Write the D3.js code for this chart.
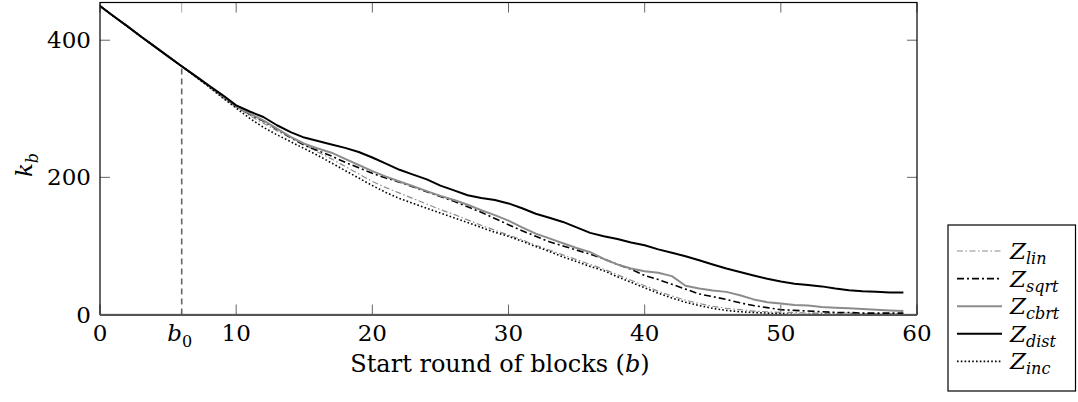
<!DOCTYPE html>
<html><head><meta charset="utf-8">
<script src="https://cdn.jsdelivr.net/npm/d3@7"></script>
<style>
html,body{margin:0;padding:0;background:#fff;}
svg{display:block;}
</style>
</head><body>
<svg id="c" width="1078" height="402" font-family="'DejaVu Serif', 'Liberation Serif', serif"></svg>
<script>
const rounds = d3.range(0, 60);
const zLin  = [450,435,420.5,405.5,391,376.5,362,347,332,317,303, 290,279,268,258,248,237,227,216,205,194, 185,177,169,161,153,146,138,130,123,116, 109,101,94,87,80,73,66,58,50,42, 34,27,21,16,12,9,7,5,4,3, 3,2,2,2,2,1,1,1,1];
const zSqrt = [450,435,420.5,405.5,391,376.5,362,348,333,318,303, 292,282,270,258,247,239,231,222,214,206, 199,193,186,179,172,165,157,149,140,131, 122,114,106,100,94,88,81,73,66,57, 51,44,37,30,26,22,17,13,10,7, 6,5,4,3,3,2,2,2,2];
const zCbrt = [450,435,420.5,405.5,391,376.5,362,348,333,318,303, 293,283,271,259,249,242,236,227,218,209, 201,194,187,180,173,167,160,152,145,137, 127,118,111,104,97,91,81,73,67,63, 61,56,42,38,35,33,28,22,18,16, 14,13,11,10,9,8,7,6,5];
const zDist = [450,435,420.5,405.5,391,376.5,362,348,334,320,305, 296,288,276,266,258,253,248,243,237,229, 220,211,204,197,188,181,174,170,167,162, 155,147,141,135,127,119,114,110,105,101, 95,90,85,79,73,67,62,57,52,48, 45,43,41,38,35.5,34,33,32,32];
const zInc  = [450,435,420.5,405.5,391,376.5,362,347,332,316,301, 286,273,262,252,242,232,221,210,199,188, 178,169,162,155,148,141,134,127,120,114, 107,99,92,84,77,70,64,55,47,39, 31,24,18,13,9,6,4,3,2,1, 0,0,0,0,0,0,0,0,0];
const xTicks = [0,10,20,30,40,50,60];
const yTicks = [0,200,400];
const b0 = 6;
const b0Value = 362;

const series = [
  {name:"lin",  values:zLin,  color:"#8c8c8c", width:1.2, dash:"6,2.5,1.5,2.5"},
  {name:"sqrt", values:zSqrt, color:"#000",    width:1.6, dash:"7,3,2,3"},
  {name:"cbrt", values:zCbrt, color:"#8c8c8c", width:2,   dash:null},
  {name:"dist", values:zDist, color:"#000",    width:2,   dash:null},
  {name:"inc",  values:zInc,  color:"#000",    width:1.6, dash:"1.6,2.2"}
];

const svg = d3.select("#c");
const x = d3.scaleLinear().domain([0,60]).range([100,917]);
const y = d3.scaleLinear().domain([0,455]).range([314.5,2.5]);
const FS = 23;
const SUB = 16;

const line = d3.line().x((d,i)=>x(rounds[i])).y(d=>y(d));
const gPlot = svg.append("g");
gPlot.append("clipPath").attr("id","clip").append("rect")
  .attr("x",100).attr("y",2.5).attr("width",817).attr("height",312);
series.forEach(s=>{
  gPlot.append("path").attr("clip-path","url(#clip)")
    .attr("d", line(s.values))
    .attr("fill","none").attr("stroke",s.color).attr("stroke-width",s.width)
    .attr("stroke-dasharray", s.dash).attr("stroke-linejoin","round");
});

svg.append("line").attr("x1",x(b0)).attr("x2",x(b0)).attr("y1",y(0)).attr("y2",y(b0Value))
  .attr("stroke","#666").attr("stroke-width",1.6).attr("stroke-dasharray","6,4");

const tickLen = 10;
const gT = svg.append("g").attr("stroke","#666").attr("stroke-width",1);
xTicks.forEach(t=>{
  gT.append("line").attr("x1",x(t)).attr("x2",x(t)).attr("y1",y(0)).attr("y2",y(0)-tickLen);
  gT.append("line").attr("x1",x(t)).attr("x2",x(t)).attr("y1",y(455)).attr("y2",y(455)+tickLen);
});
gT.append("line").attr("x1",x(b0)).attr("x2",x(b0)).attr("y1",y(455)).attr("y2",y(455)+tickLen).attr("stroke","#aaa");
yTicks.forEach(t=>{
  gT.append("line").attr("x1",x(0)).attr("x2",x(0)+tickLen).attr("y1",y(t)).attr("y2",y(t));
  gT.append("line").attr("x1",x(60)).attr("x2",x(60)-tickLen).attr("y1",y(t)).attr("y2",y(t));
});

svg.append("rect").attr("x",x(0)).attr("y",y(455)).attr("width",x(60)-x(0)).attr("height",y(0)-y(455))
  .attr("fill","none").attr("stroke","#000").attr("stroke-width",1.2);
svg.append("line").attr("x1",x(0)).attr("x2",x(60)).attr("y1",y(0)+0.5).attr("y2",y(0)+0.5)
  .attr("stroke","#555").attr("stroke-width",2);

const gL = svg.append("g").attr("font-size",FS).attr("fill","#000");
xTicks.forEach(t=>{
  gL.append("text").attr("x",x(t)).attr("y",341).attr("text-anchor","middle").text(t);
});
const b0t = gL.append("text").attr("x",x(b0)-2).attr("y",341).attr("text-anchor","middle");
b0t.append("tspan").attr("font-style","italic").text("b");
b0t.append("tspan").attr("font-size",SUB).attr("dy",6).text("0");
yTicks.forEach(t=>{
  gL.append("text").attr("x",91).attr("y",y(t)+8).attr("text-anchor","end").text(t);
});

const xl = gL.append("text").attr("x",500).attr("y",372).attr("font-size",24).attr("text-anchor","middle");
xl.append("tspan").text("Start round of blocks (");
xl.append("tspan").attr("font-style","italic").text("b");
xl.append("tspan").text(")");
const yl = gL.append("text").attr("transform","translate(32,165) rotate(-90)").attr("text-anchor","middle");
yl.append("tspan").attr("font-style","italic").text("k");
yl.append("tspan").attr("font-style","italic").attr("font-size",SUB).attr("dy",6).text("b");

const lg = svg.append("g");
lg.append("rect").attr("x",948).attr("y",225).attr("width",127.5).attr("height",166)
  .attr("fill","#fff").attr("stroke","#000").attr("stroke-width",1.2);
series.forEach((s,i)=>{
  const cy = 251 + i*27.6;
  lg.append("line").attr("x1",957).attr("x2",1002).attr("y1",cy).attr("y2",cy)
    .attr("stroke",s.color).attr("stroke-width",s.width).attr("stroke-dasharray",s.dash);
  const t = lg.append("text").attr("x",1010).attr("y",cy+8).attr("font-size",FS).attr("font-style","italic");
  t.append("tspan").text("Z");
  t.append("tspan").attr("font-size",SUB).attr("dy",5).text(s.name);
});
</script>
</body></html>
